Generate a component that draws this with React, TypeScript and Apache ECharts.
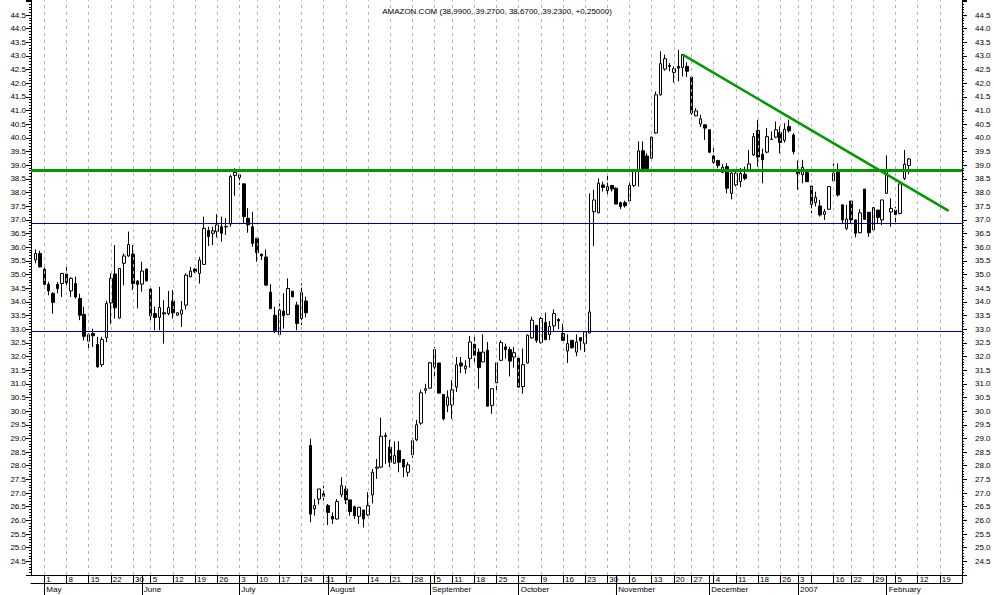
import React, { useEffect, useRef } from "react";
import * as echarts from "echarts";

// ---- calendar (trading days, future weekdays kept) ----
const START_DATE = "2006-04-26";
const CATEGORY_COUNT = 211;
const HOLIDAYS = ["2006-05-29", "2006-07-04", "2006-09-04", "2006-11-23", "2006-12-25", "2007-01-01", "2007-01-02", "2007-01-15"];
const HIDDEN_DAY_LABELS = ["2007-01-08"];
const MONTH_NAMES = ["2007", "February", "March", "April", "May", "June", "July", "August", "September", "October", "November", "December"];
const TITLE = "AMAZON.COM (38.9900, 39.2700, 38.6700, 39.2300, +0.25000)";

// ---- prices: first candle at category index 1 ----
const FIRST_INDEX = 1;
const OPEN = [
  35.53, 35.77, 35.19, 34.64, 34.31, 34.64, 34.67, 35.02, 34.40, 34.67,
  34.12, 33.54, 32.56, 32.84, 32.44, 31.70, 32.69, 33.96, 35.02, 33.41,
  35.41, 35.68, 35.75, 34.76, 34.65, 35.20, 34.47, 33.57, 33.43, 33.60,
  33.57, 34.03, 33.51, 33.55, 33.88, 34.92, 35.20, 35.04, 35.37, 36.61,
  36.51, 36.57, 36.75, 36.74, 36.85, 38.63, 38.55, 38.32, 37.06, 36.75,
  36.33, 35.75, 35.64, 34.36, 33.51, 32.80, 33.66, 33.54, 34.39, 33.88,
  33.39, 34.03, 28.74, 26.42, 26.78, 26.97, 26.54, 26.14, 26.05, 26.94,
  27.15, 26.75, 26.50, 26.15, 26.38, 26.20, 26.93, 27.91, 27.95, 29.07,
  28.68, 28.09, 28.56, 28.23, 27.76, 28.40, 28.95, 29.56, 30.76, 30.84,
  31.61, 31.76, 30.61, 30.21, 30.23, 30.88, 31.76, 31.55, 31.92, 32.45,
  32.16, 31.80, 32.23, 30.21, 31.04, 31.86, 32.35, 32.25, 31.98, 31.94,
  30.90, 31.76, 32.68, 33.14, 32.51, 33.24, 32.80, 33.12, 33.35, 32.84,
  32.20, 32.59, 32.16, 32.69, 32.47, 32.86, 37.30, 37.26, 38.28, 38.07,
  38.26, 38.16, 37.63, 37.63, 37.69, 38.26, 38.83, 39.53, 39.34, 39.26,
  40.18, 41.58, 42.52, 42.65, 42.40, 42.62, 42.58, 42.62, 42.23, 40.81,
  40.51, 40.48, 40.30, 39.34, 39.17, 38.74, 38.95, 37.97, 38.28, 38.40,
  38.67, 38.77, 39.38, 40.27, 39.40, 39.48, 39.95, 40.03, 40.20, 39.91,
  40.42, 40.11, 38.77, 38.65, 38.73, 38.24, 37.63, 37.51, 37.20, 37.39,
  38.43, 38.83, 37.55, 36.69, 37.69, 37.00, 36.53, 38.13, 37.28, 36.63,
  37.36, 37.00, 37.97, 37.29, 37.36, 37.24, 38.52, 38.99,
];
const CLOSE = [
  35.77, 35.28, 34.64, 34.40, 33.98, 34.49, 35.04, 34.70, 34.86, 34.18,
  33.51, 32.74, 32.80, 32.76, 31.62, 32.62, 33.94, 34.86, 33.78, 35.22,
  35.68, 36.10, 34.67, 34.64, 35.13, 34.77, 33.49, 33.43, 33.79, 33.56,
  33.79, 33.60, 33.60, 33.70, 34.98, 35.13, 35.10, 35.53, 36.69, 36.39,
  36.60, 36.82, 36.51, 36.76, 38.59, 38.74, 38.65, 37.12, 36.82, 36.14,
  35.80, 35.68, 34.61, 33.75, 32.94, 33.70, 33.49, 34.49, 34.19, 33.21,
  34.34, 33.60, 26.23, 26.54, 27.15, 26.88, 26.29, 26.05, 26.69, 27.27,
  26.75, 26.32, 26.17, 26.48, 26.05, 26.54, 27.76, 27.95, 29.08, 29.11,
  28.13, 28.37, 28.13, 27.95, 28.03, 28.92, 29.50, 30.67, 30.82, 31.77,
  32.26, 30.66, 29.72, 30.51, 30.78, 31.70, 31.65, 31.65, 32.53, 32.04,
  31.59, 32.16, 30.18, 30.82, 31.77, 32.51, 32.25, 31.83, 32.14, 30.88,
  31.70, 32.78, 33.33, 32.59, 33.39, 32.62, 33.10, 33.57, 33.30, 32.59,
  32.47, 32.32, 32.53, 32.57, 32.90, 33.63, 37.73, 38.34, 38.19, 38.22,
  38.13, 37.58, 37.49, 37.52, 38.26, 38.77, 39.53, 38.85, 38.88, 40.03,
  41.58, 42.72, 42.90, 42.62, 42.54, 42.56, 43.05, 42.44, 40.91, 40.99,
  40.70, 40.36, 39.48, 39.11, 38.99, 38.93, 38.16, 38.71, 38.71, 38.70,
  38.52, 39.05, 40.05, 39.30, 39.20, 40.05, 39.96, 40.30, 39.83, 40.32,
  40.26, 39.50, 38.68, 38.92, 38.40, 37.57, 37.83, 37.18, 37.30, 38.22,
  38.71, 37.91, 37.00, 37.03, 37.00, 36.51, 37.26, 37.02, 36.53, 37.45,
  37.09, 37.73, 38.77, 37.42, 37.20, 38.32, 39.04, 39.23,
];
const LOW = [
  35.41, 35.26, 34.49, 34.24, 33.57, 34.31, 34.18, 34.53, 34.18, 34.12,
  33.33, 32.59, 32.23, 32.35, 31.59, 31.62, 32.52, 33.18, 33.39, 33.39,
  34.61, 35.65, 34.43, 33.76, 34.37, 34.74, 33.33, 32.96, 32.96, 32.47,
  33.51, 33.39, 33.50, 33.08, 33.72, 34.90, 35.05, 34.67, 35.35, 36.04,
  36.08, 36.36, 36.20, 36.45, 36.75, 37.88, 38.28, 36.85, 36.53, 36.02,
  35.47, 35.53, 34.61, 33.75, 32.86, 32.80, 33.02, 33.51, 34.16, 32.96,
  33.15, 33.43, 25.93, 26.17, 26.58, 26.72, 25.83, 25.87, 26.03, 26.85,
  26.60, 26.17, 26.05, 25.87, 25.74, 26.17, 26.62, 27.52, 27.91, 28.07,
  27.95, 28.07, 27.76, 27.58, 27.60, 28.28, 28.90, 29.50, 30.64, 30.82,
  31.25, 30.64, 29.66, 29.96, 29.72, 30.70, 31.39, 31.37, 31.59, 31.80,
  30.82, 31.80, 30.18, 29.90, 30.76, 31.83, 31.92, 31.27, 31.59, 30.86,
  30.64, 31.74, 32.65, 32.50, 32.47, 32.59, 32.60, 32.90, 33.00, 32.57,
  31.76, 32.29, 32.01, 32.23, 32.16, 32.86, 36.04, 37.24, 38.04, 37.85,
  38.04, 37.58, 37.39, 37.45, 37.67, 38.20, 38.22, 38.85, 38.85, 39.20,
  40.15, 41.55, 42.46, 42.44, 42.03, 42.07, 42.25, 42.23, 40.85, 40.79,
  40.40, 39.93, 39.44, 39.05, 38.89, 38.71, 37.97, 37.75, 38.22, 38.20,
  38.45, 38.77, 39.34, 38.95, 38.34, 39.44, 39.93, 39.99, 39.44, 39.83,
  40.20, 39.40, 38.10, 38.34, 38.40, 37.24, 37.49, 37.12, 37.00, 37.36,
  38.40, 37.85, 36.87, 36.63, 36.87, 36.36, 36.51, 37.00, 36.38, 36.61,
  36.87, 36.81, 37.97, 36.75, 36.87, 37.20, 38.46, 38.67,
];
const HIGH = [
  35.92, 35.87, 35.26, 34.73, 34.35, 34.73, 35.06, 35.35, 34.90, 34.92,
  34.30, 33.82, 32.85, 33.02, 32.72, 32.72, 34.04, 35.04, 36.08, 35.24,
  35.77, 36.57, 36.08, 34.80, 35.47, 35.22, 34.49, 33.82, 34.55, 34.06,
  34.40, 34.43, 33.62, 34.03, 35.04, 35.28, 35.23, 35.65, 37.12, 36.75,
  36.75, 37.21, 37.12, 37.06, 38.65, 38.89, 38.65, 38.32, 37.43, 37.30,
  36.33, 35.75, 35.92, 34.65, 33.82, 33.94, 34.31, 34.86, 34.39, 34.00,
  34.67, 34.19, 28.99, 26.78, 27.15, 27.27, 26.60, 26.29, 26.78, 27.58,
  27.27, 26.75, 26.54, 26.48, 26.38, 27.03, 27.88, 28.25, 29.76, 29.21,
  28.95, 28.89, 28.90, 28.23, 28.13, 29.01, 29.68, 30.78, 31.00, 31.80,
  32.35, 31.76, 30.61, 30.76, 31.13, 31.98, 31.98, 31.86, 32.75, 32.81,
  32.29, 32.81, 32.53, 30.82, 31.80, 32.59, 32.47, 32.35, 32.35, 31.98,
  32.29, 32.81, 33.45, 33.14, 33.45, 33.60, 33.30, 33.72, 33.40, 33.20,
  32.81, 32.59, 32.81, 32.69, 32.90, 37.97, 38.10, 38.52, 38.40, 38.65,
  38.26, 38.19, 37.67, 37.70, 38.40, 38.80, 39.87, 39.87, 39.44, 40.05,
  41.70, 43.17, 43.05, 42.74, 42.62, 43.23, 43.05, 42.77, 42.23, 41.09,
  40.85, 40.48, 40.30, 39.63, 39.20, 39.05, 39.07, 38.77, 38.77, 38.90,
  38.95, 39.56, 40.18, 40.66, 39.60, 40.36, 40.24, 40.60, 40.42, 40.54,
  40.67, 40.18, 39.17, 39.20, 38.77, 38.24, 38.03, 37.73, 37.40, 38.24,
  39.07, 39.07, 37.55, 37.55, 37.69, 37.00, 37.39, 38.13, 37.28, 37.45,
  37.36, 37.73, 39.36, 37.79, 37.48, 38.32, 39.56, 39.27,
];

// ---- reference lines ----
const RESISTANCE = 38.81;
const SUPPORTS = [36.87, 32.91];
const TREND_START_INDEX = 147;
const TREND_START_VALUE = 43.05;
const TREND_END_INDEX = 207;
const TREND_END_VALUE = 37.33;

const FONT = "Liberation Sans";

function buildDates(): string[] {
  const out: string[] = [];
  const [y, m, d] = START_DATE.split("-").map(Number);
  let t = Date.UTC(y, m - 1, d);
  while (out.length < CATEGORY_COUNT) {
    const dt = new Date(t);
    const wd = dt.getUTCDay();
    const s = dt.toISOString().slice(0, 10);
    if (wd !== 0 && wd !== 6 && !HOLIDAYS.includes(s)) out.push(s);
    t += 86400000;
  }
  return out;
}

export default function App() {
  const ref = useRef<HTMLDivElement>(null);
  useEffect(() => {
    if (!ref.current) return;
    const chart = echarts.init(ref.current, null, { renderer: "svg" });
    const dates = buildDates();
    const dayNum = (s: string) => Math.floor(Date.parse(s + "T00:00:00Z") / 86400000);
    const weekOf = (s: string) => Math.floor((dayNum(s) + 3) / 7);
    const weekStart = dates.map((s, i) => i > 0 && weekOf(s) !== weekOf(dates[i - 1]));
    const monthStart = dates.map((s, i) => i > 0 && s.slice(5, 7) !== dates[i - 1].slice(5, 7));
    const last = dates.length - 1;
    const dayLabel = dates.map((s, i) =>
      weekStart[i] && i < last && !HIDDEN_DAY_LABELS.includes(s) ? String(Number(s.slice(8, 10))) : ""
    );
    const monthLabel = dates.map((s, i) => {
      if (!monthStart[i] || i >= last) return "";
      const mm = Number(s.slice(5, 7));
      return MONTH_NAMES[mm - 1];
    });
    const data = dates.map((_, i) => {
      const k = i - FIRST_INDEX;
      if (k < 0 || k >= OPEN.length) return "-";
      return [OPEN[k], CLOSE[k], LOW[k], HIGH[k]];
    });
    const gridLines = dates
      .map((s, i) => (weekStart[i] && i < last ? { xAxis: s } : null))
      .filter((v) => v !== null);

    const yAxisBase = (position: "left" | "right", margin: number) => ({
      type: "value",
      position,
      min: 24,
      max: 45.05,
      interval: 0.5,
      scale: true,
      axisLine: { show: true, lineStyle: { color: "#000", width: 1 } },
      axisTick: { show: true, length: 5, lineStyle: { color: "#000" } },
      minorTick: { show: true, splitNumber: 5, length: 2, lineStyle: { color: "#000" } },
      splitLine: { show: false },
      axisLabel: {
        margin,
        fontSize: 8,
        fontFamily: FONT,
        color: "#000",
        formatter: (v: number) => (v < 24.25 || v > 44.75 ? "" : v.toFixed(1)),
      },
    });

    chart.setOption({
      animation: false,
      textStyle: { fontFamily: FONT },
      title: {
        text: TITLE,
        left: "center",
        top: 2,
        textStyle: { fontSize: 8, fontWeight: "normal", color: "#000", fontFamily: FONT },
      },
      grid: { left: 31, right: 32, top: 0, bottom: 20, containLabel: false },
      xAxis: [
        {
          type: "category",
          data: dates,
          boundaryGap: false,
          position: "bottom",
          axisLine: { show: true, lineStyle: { color: "#000", width: 1 } },
          axisTick: {
            show: true,
            length: 8,
            interval: (i: number) => weekStart[i] || monthStart[i],
            lineStyle: { color: "#000" },
          },
          axisLabel: {
            interval: (i: number) => dayLabel[i] !== "",
            formatter: (_: string, i: number) => dayLabel[i],
            align: "left",
            margin: 0,
            padding: [0, 0, 0, 2],
            fontSize: 8,
            fontFamily: FONT,
            color: "#000",
          },
          splitLine: { show: false },
        },
        {
          type: "category",
          data: dates,
          boundaryGap: false,
          position: "bottom",
          offset: 8,
          axisLine: { show: true, lineStyle: { color: "#000", width: 1 } },
          axisTick: {
            show: true,
            length: 12,
            interval: (i: number) => monthStart[i],
            lineStyle: { color: "#000" },
          },
          axisLabel: {
            interval: (i: number) => monthLabel[i] !== "",
            formatter: (_: string, i: number) => monthLabel[i],
            align: "left",
            margin: 2,
            padding: [0, 0, 0, 2],
            fontSize: 8,
            fontFamily: FONT,
            color: "#000",
          },
          splitLine: { show: false },
        },
      ],
      yAxis: [yAxisBase("left", 5), yAxisBase("right", 13)],
      series: [
        {
          type: "line",
          xAxisIndex: 0,
          yAxisIndex: 0,
          z: 1,
          data: dates.map(() => "-"),
          showSymbol: false,
          silent: true,
          markLine: {
            silent: true,
            symbol: ["none", "none"],
            label: { show: false },
            animation: false,
            lineStyle: { color: "#b4b4b4", type: [3, 4], width: 1 },
            data: gridLines,
          },
        },
        {
          type: "candlestick",
          xAxisIndex: 0,
          yAxisIndex: 0,
          z: 3,
          data,
          barWidth: 3,
          itemStyle: {
            color: "#ffffff",
            color0: "#000000",
            borderColor: "#000000",
            borderColor0: "#000000",
            borderWidth: 1,
          },
          markLine: {
            silent: true,
            symbol: ["none", "none"],
            label: { show: false },
            animation: false,
            data: [
              { yAxis: RESISTANCE, lineStyle: { color: "#009900", width: 3, type: "solid" } },
              ...SUPPORTS.map((v) => ({ yAxis: v, lineStyle: { color: "#0000a8", width: 1, type: "solid" } })),
              [
                { coord: [dates[TREND_START_INDEX], TREND_START_VALUE], lineStyle: { color: "#009900", width: 2.5, type: "solid" } },
                { coord: [dates[TREND_END_INDEX], TREND_END_VALUE] },
              ],
            ],
          },
        },
      ],
    });
    return () => chart.dispose();
  }, []);
  return <div ref={ref} style={{ position: "absolute", left: 0, top: 0, width: 994, height: 595, background: "#fff" }} />;
}
